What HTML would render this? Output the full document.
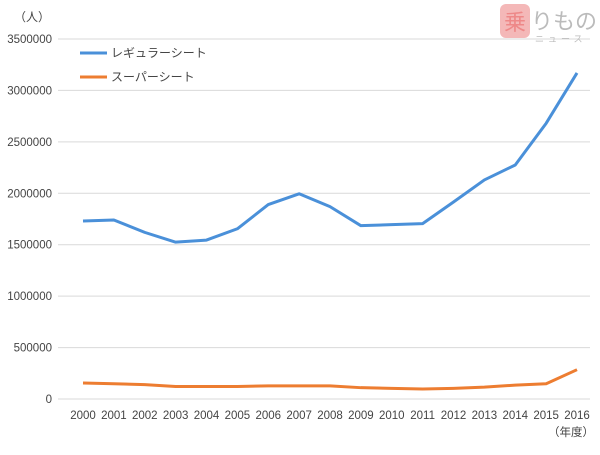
<!DOCTYPE html>
<html><head><meta charset="utf-8"><style>
body{margin:0;background:#fff;width:600px;height:450px;overflow:hidden;font-family:"Liberation Sans","Noto Sans CJK JP",sans-serif}
</style></head><body>
<svg width="600" height="450" font-family="Liberation Sans, Noto Sans CJK JP, sans-serif">
<g id="grid"></g>
<g id="yt" font-size="11.5" fill="#444" text-anchor="end"></g>
<g id="xt" font-size="11.5" fill="#444" text-anchor="middle"></g>
<text x="50" y="21" font-size="12" fill="#444" text-anchor="end">（人）</text>
<text x="594" y="436" font-size="11.5" fill="#444" text-anchor="end">（年度）</text>
<g id="series"></g>
<g>
<line x1="80" y1="53" x2="107" y2="53" stroke="#4a90d9" stroke-width="3"/>
<text x="111" y="57" font-size="12" fill="#444">レギュラーシート</text>
<line x1="80" y1="77" x2="107" y2="77" stroke="#ed7d31" stroke-width="3"/>
<text x="111" y="81" font-size="12" fill="#444">スーパーシート</text>
</g>
<g>
<rect x="500" y="4" width="30" height="34" rx="6" fill="#f4b8b8"/>
<text x="515" y="30" font-size="22" fill="#e88" text-anchor="middle">乗</text>
<text x="531" y="29" font-size="22" fill="#bbb">りもの</text>
<text x="535" y="42" font-size="9" fill="#bbb" letter-spacing="4">ニュース</text>
</g>
</svg>
<script>
const years=["2000","2001","2002","2003","2004","2005","2006","2007","2008","2009","2010","2011","2012","2013","2014","2015","2016"];
const regular=[1730000,1740000,1620000,1525000,1545000,1655000,1890000,1995000,1870000,1685000,1695000,1705000,1915000,2130000,2275000,2680000,3170000];
const superSeat=[155000,148000,140000,122000,122000,122000,128000,128000,128000,110000,103000,97000,103000,115000,135000,148000,285000];
const yTicks=[0,500000,1000000,1500000,2000000,2500000,3000000,3500000];
const NS="http://www.w3.org/2000/svg";
const y0=399,yTop=39,yMax=3500000,xL=83,xR=577;
const ys=v=>y0-(v/yMax)*(y0-yTop);
const xs=i=>xL+i*(xR-xL)/(years.length-1);
function mk(t,a,p){const e=document.createElementNS(NS,t);for(const k in a)e.setAttribute(k,a[k]);p.appendChild(e);return e;}
const grid=document.getElementById('grid'),yt=document.getElementById('yt'),xt=document.getElementById('xt'),ser=document.getElementById('series');
yTicks.forEach(v=>{
const l=mk('line',{x1:58,x2:590,y1:ys(v),y2:ys(v),stroke:'#d9d9d9','stroke-width':1},grid);


const t=mk('text',{x:52,y:ys(v)+4},yt);t.textContent=v;


});
years.forEach((y,i)=>{
const t=mk('text',{x:xs(i),y:419},xt);t.textContent=y;


});
function line(vals,color,name){
const p=mk('polyline',{points:vals.map((v,i)=>xs(i)+','+ys(v)).join(' '),fill:'none',stroke:color,'stroke-width':3,'stroke-linejoin':'round'},ser);


}
line(regular,'#4a90d9','line-regular-seat');
line(superSeat,'#ed7d31','line-super-seat');
</script>
</body></html>
